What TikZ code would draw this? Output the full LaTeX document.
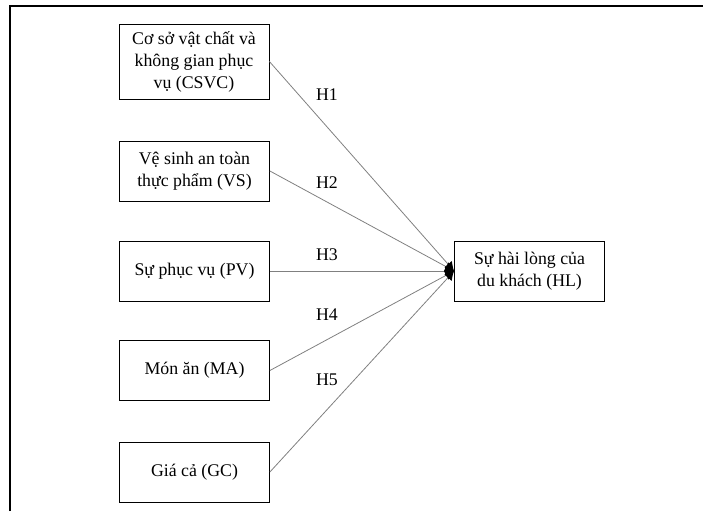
\documentclass[tikz,border=0pt]{standalone}
\usepackage{fontspec}
\setmainfont{Liberation Serif}
\usetikzlibrary{arrows.meta,positioning}

\begin{document}
\begin{tikzpicture}[
  x=1pt, y=-1pt,
  every node/.style={font=\fontsize{17.8}{22}\selectfont},
  factor/.style={draw, thick, rectangle, minimum width=150pt, minimum height=60pt,
  inner sep=2pt, align=center},
  hyp/.style={draw=gray, line width=0.8pt, -{Latex[length=9pt,width=10pt,color=black]}}
]
\useasboundingbox (0,0) rectangle (703,511);
% frame
\draw[line width=1.6pt] (10,511) -- (10,6) -- (703,6);
% factors
\node[factor, minimum height=75pt] (csvc) at (194,61.5) {Cơ sở vật chất và\\ không gian phục\\ vụ (CSVC)};
\node[factor] (vs) at (194.5,171) {Vệ sinh an toàn\\ thực phẩm (VS)};
\node[factor] (pv) at (194.5,271) {Sự phục vụ (PV)};
\node[factor] (ma) at (194.5,370.5) {Món ăn (MA)};
\node[factor] (gc) at (194.5,472) {Giá cả (GC)};
% outcome
\node[factor] (hl) at (529.5,271) {Sự hài lòng của\\ du khách (HL)};
% hypotheses
\node (h1) at (327,95) {H1};
\node (h2) at (327,183) {H2};
\node (h3) at (327,255) {H3};
\node (h4) at (327,315) {H4};
\node (h5) at (327,380) {H5};
% edges with arrows
\foreach \a in {csvc, vs, pv, ma, gc}
  \draw[hyp] (\a.east) -- (hl.west);
\end{tikzpicture}
\end{document}
